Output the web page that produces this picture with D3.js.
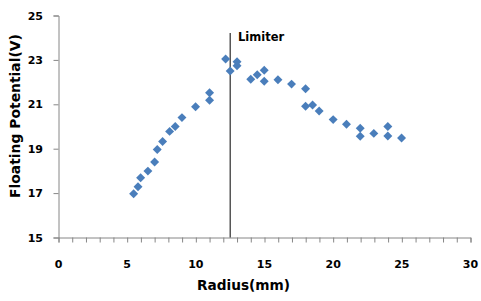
<!DOCTYPE html>
<html><head><meta charset="utf-8">
<script src="https://cdn.jsdelivr.net/npm/d3@7"></script>
<style>body{margin:0;background:#fff}svg{display:block}text{font-family:"DejaVu Sans",Verdana,sans-serif;font-weight:bold}</style>
</head><body>
<svg id="c" width="481" height="301"></svg>
<script>
const radius = [5.47,5.79,5.98,6.51,7.0,7.19,7.58,8.09,8.5,8.99,9.98,11.0,11.0,12.17,12.5,13.0,13.0,14.0,14.47,14.98,14.98,15.98,16.97,17.99,17.99,18.5,18.98,20.0,20.97,21.97,21.97,22.96,23.98,23.98,24.98];
const potential = [16.97,17.29,17.69,17.99,18.40,18.96,19.32,19.78,20.0,20.40,20.89,21.18,21.52,23.04,22.5,22.92,22.74,22.13,22.33,22.53,22.04,22.11,21.91,21.70,20.91,20.97,20.70,20.31,20.10,19.92,19.56,19.69,20.0,19.57,19.48];
const xTicks = [0,5,10,15,20,25,30];
const yTicks = [15,17,19,21,23,25];
const limiterX = 12.5;
const limiterLabel = "Limiter";

const svg = d3.select("#c");
const x = d3.scaleLinear().domain([0,30]).range([58.5,470.5]);
const y = d3.scaleLinear().domain([15,25]).range([237.5,15.5]);
const axisColor = "#868686";

// x axis
const xa = svg.append("g").attr("transform","translate(0,237.5)")
  .call(d3.axisBottom(x).tickValues(d3.range(0,31,1)).tickSize(5).tickFormat(""));
xa.select(".domain").attr("stroke",axisColor);
xa.selectAll("line").attr("stroke",axisColor);
svg.append("g").selectAll("text").data(xTicks).join("text")
  .attr("x",d=>x(d)).attr("y",267.5).attr("text-anchor","middle")
  .attr("font-size",11).text(d=>d);

// y axis
const ya = svg.append("g").attr("transform","translate(58.5,0)")
  .call(d3.axisLeft(y).tickValues(yTicks).tickSize(5).tickFormat(""));
ya.select(".domain").attr("stroke",axisColor);
ya.selectAll("line").attr("stroke",axisColor);
svg.append("g").selectAll("text").data(yTicks).join("text")
  .attr("x",43).attr("y",d=>y(d)+4).attr("text-anchor","end")
  .attr("font-size",11).text(d=>d);

// limiter
svg.append("line").attr("x1",x(limiterX)).attr("x2",x(limiterX))
  .attr("y1",33).attr("y2",237.5).attr("stroke","#000").attr("stroke-width",1);
svg.append("text").attr("x",238).attr("y",41).attr("font-size",11.5).text(limiterLabel);

// points
svg.append("g").selectAll("path").data(radius.map((r,i)=>[r,potential[i]])).join("path")
  .attr("d",d3.symbol().type(d3.symbolSquare).size(40))
  .attr("transform",d=>`translate(${x(d[0])},${y(d[1])}) rotate(45)`)
  .attr("fill","#4a7ebb");

// titles
svg.append("text").attr("x",243.5).attr("y",290).attr("text-anchor","middle").attr("font-size",13.7).text("Radius(mm)");
svg.append("text").attr("transform","translate(19.5,116) rotate(-90)").attr("text-anchor","middle").attr("font-size",13.9).text("Floating Potential(V)");
</script>
</body></html>
